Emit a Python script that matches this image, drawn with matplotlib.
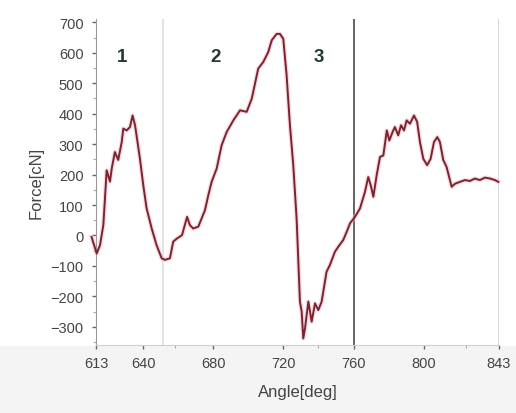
import matplotlib
matplotlib.use("Agg")
import matplotlib.pyplot as plt
from matplotlib.patches import Rectangle
from matplotlib.ticker import MultipleLocator, FixedLocator

plt.rcParams['font.family'] = ['Liberation Sans', 'DejaVu Sans']

# force curve (angle in deg, force in cN)
angle = [610.5, 613.4, 615.3, 617.2, 619.1, 621.0, 622.0, 623.8, 625.7, 627.7,
         628.6, 630.5, 632.4, 633.9, 635.3, 638.1, 640.0, 641.9, 644.8, 647.6,
         650.5, 652.4, 655.2, 657.1, 659.2, 662.1, 665.0, 666.6, 668.5, 671.4,
         673.3, 675.2, 677.1, 679.0, 681.9, 684.7, 687.6, 691.4, 695.2, 699.0,
         701.9, 705.6, 708.5, 711.3, 713.3, 716.1, 718.0, 719.9, 721.8, 723.7,
         725.6, 727.5, 728.5, 729.4, 730.4, 731.3, 732.3, 734.2, 736.1, 738.0,
         739.9, 741.8, 744.6, 746.5, 749.4, 751.3, 754.1, 756.1, 758.0, 760.8,
         763.7, 766.5, 768.4, 769.8, 771.3, 773.2, 775.1, 777.0, 779.0, 780.4,
         782.3, 783.6, 785.5, 787.1, 788.8, 790.3, 792.2, 794.5, 796.3, 797.9,
         799.8, 802.0, 804.0, 805.9, 807.8, 809.3, 811.2, 813.1, 816.0, 817.9,
         820.7, 823.6, 826.4, 829.3, 832.1, 835.0, 837.9, 840.7, 842.6]
force = [-5, -59, -32, 34, 214, 177, 220, 274, 248, 307,
         351, 345, 356, 394, 362, 252, 165, 89, 23, -32,
         -75, -80, -75, -20, -10, 1, 61, 34, 23, 29,
         56, 83, 132, 176, 220, 296, 340, 378, 411, 406,
         449, 548, 570, 602, 641, 662, 662, 646, 526, 362,
         231, 56, -86, -217, -250, -338, -305, -217, -283, -223,
         -245, -217, -119, -97, -53, -37, -15, 12, 40, 61,
         89, 143, 192, 165, 127, 198, 258, 263, 345, 312,
         340, 356, 329, 362, 345, 378, 367, 394, 373, 307,
         252, 231, 252, 307, 323, 307, 248, 225, 160, 170,
         176, 182, 179, 187, 182, 190, 187, 182, 176]

x_ticks = [613, 640, 680, 720, 760, 800, 843]
x_minor = [658, 740, 824]
phase_labels = ['1', '2', '3']
phase_label_x = [628, 681, 740]
phase_lines = [651, 760, 843]
phase_colors = ['#dcdcdc', '#3a3a3a', '#cfcfcf']

fig = plt.figure(figsize=(5.16, 4.14), dpi=100)
fig.patches.append(Rectangle((0, 0), 1, 0.162, transform=fig.transFigure,
                             facecolor='#f4f4f4', edgecolor='none', zorder=-5))
ax = fig.add_axes([0.186, 0.164, 0.781, 0.787])
ax.set_xlim(613, 843)
ax.set_ylim(-360, 710)

for xv, c in zip(phase_lines, phase_colors):
    ax.axvline(xv, color=c, lw=1.1, zorder=1)

ax.plot(angle, force, color='#f2b5bd', lw=3.2, alpha=0.5, zorder=2, clip_on=False)
ax.plot(angle, force, color='#7a2432', lw=1.4, zorder=3, clip_on=False)

for lab, xv in zip(phase_labels, phase_label_x):
    ax.text(xv, 588, lab, color='#1f3b32', fontsize=13.5, fontweight='bold',
            ha='center', va='center')

ax.xaxis.set_major_locator(FixedLocator(x_ticks))
ax.xaxis.set_minor_locator(FixedLocator(x_minor))
ax.yaxis.set_major_locator(MultipleLocator(100))
ax.yaxis.set_minor_locator(MultipleLocator(50))
ax.tick_params(axis='both', which='major', length=3, width=1, color='#666',
               labelsize=10.5, labelcolor='#444', pad=6)
ax.tick_params(axis='x', which='major', pad=5)
ax.tick_params(axis='both', which='minor', length=2, width=0.8, color='#aaa')

for s in ['top', 'right']:
    ax.spines[s].set_visible(False)
ax.spines['left'].set_color('#999999')
ax.spines['bottom'].set_color('#d0d0d0')

ax.set_xlabel('Angle[deg]', fontsize=12, color='#444', labelpad=10)
ax.set_ylabel('Force[cN]', fontsize=12, color='#444', labelpad=5)

fig.savefig('out.png', dpi=100)
